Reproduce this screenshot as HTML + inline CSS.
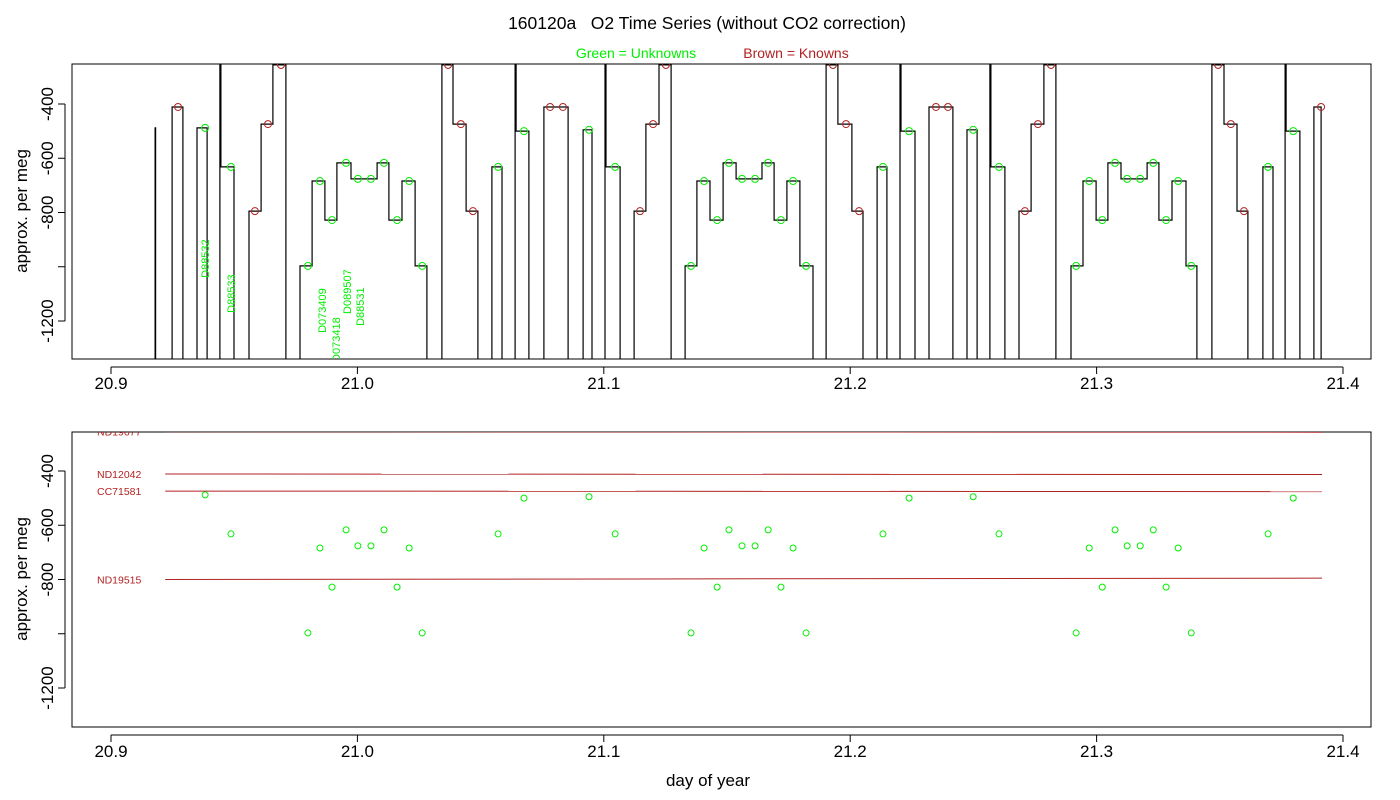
<!DOCTYPE html>
<html><head><meta charset="utf-8">
<style>
html,body{margin:0;padding:0;background:#fff;}
svg{display:block;font-family:"Liberation Sans",sans-serif;}
</style></head>
<body>
<svg id="chart" width="1400" height="800" viewBox="0 0 1400 800">
  <defs>
    <clipPath id="clipTop"><rect x="72" y="64" width="1299" height="295"/></clipPath>
    <clipPath id="clipBot"><rect x="72" y="432" width="1299" height="295"/></clipPath>
  </defs>
  <text x="707" y="29" font-size="17.5" text-anchor="middle" xml:space="preserve">160120a   O2 Time Series (without CO2 correction)</text>
  <text x="636" y="58" font-size="14" fill="#00ee00" text-anchor="middle">Green = Unknowns</text>
  <text x="796" y="58" font-size="14" fill="#b22222" text-anchor="middle">Brown = Knowns</text>
  <rect x="72" y="64" width="1299" height="295" fill="none" stroke="#000"/>
  <rect x="72" y="432" width="1299" height="295" fill="none" stroke="#000"/>
  <text transform="translate(27,211) rotate(-90)" font-size="17" text-anchor="middle">approx. per meg</text>
  <text transform="translate(27,579) rotate(-90)" font-size="17" text-anchor="middle">approx. per meg</text>
  <text x="708" y="786" font-size="17" text-anchor="middle">day of year</text>
  <g id="axes"></g>
  <g id="topG" clip-path="url(#clipTop)"></g>
  <g id="botG" clip-path="url(#clipBot)"></g>
</svg>
<script>
// ---- data ----
const xTicks = [20.9, 21.0, 21.1, 21.2, 21.3, 21.4];
const xTickLabels = ["20.9", "21.0", "21.1", "21.2", "21.3", "21.4"];
const yTicks = [-400, -600, -800, -1000, -1200];
const yTickLabels = ["-400", "-600", "-800", "", "-1200"];

// trace runs: step starts [time, value]
const runSteps = [
  [[20.9179,-488]],
  [[20.9248,-411]],
  [[20.9349,-488]],
  [[20.9442,-240],[20.9446,-632]],
  [[20.9560,-795],[20.9609,-474],[20.9657,-256]],
  [[20.9767,-997],[20.9816,-684],[20.9868,-828],[20.9917,-617],[20.9974,-676],[21.0080,-617],[21.0128,-828],[21.0181,-684],[21.0234,-997]],
  [[21.0343,-256],[21.0388,-474],[21.0441,-795]],
  [[21.0546,-632]],
  [[21.0640,-240],[21.0644,-500]],
  [[21.0757,-411]],
  [[21.0916,-495]],
  [[21.1005,-240],[21.1009,-632]],
  [[21.1123,-795],[21.1171,-474],[21.1224,-256]],
  [[21.1330,-997],[21.1378,-684],[21.1431,-828],[21.1484,-617],[21.1537,-676],[21.1642,-617],[21.1691,-828],[21.1743,-684],[21.1796,-997]],
  [[21.1902,-256],[21.1950,-474],[21.2007,-795]],
  [[21.2109,-632]],
  [[21.2202,-240],[21.2206,-500]],
  [[21.2320,-411]],
  [[21.2474,-495]],
  [[21.2567,-240],[21.2571,-632]],
  [[21.2685,-795],[21.2734,-474],[21.2786,-256]],
  [[21.2896,-997],[21.2945,-684],[21.2998,-828],[21.3046,-617],[21.3099,-676],[21.3205,-617],[21.3253,-828],[21.3306,-684],[21.3363,-997]],
  [[21.3468,-256],[21.3517,-474],[21.3570,-795]],
  [[21.3675,-632]],
  [[21.3765,-240],[21.3769,-500]],
  [[21.3882,-411]]
];
const runEnds = [20.9181,20.9292,20.9390,20.9499,20.9710,21.0282,21.0489,21.0587,21.0696,21.0855,21.0952,21.1066,21.1273,21.1849,21.2052,21.2149,21.2263,21.2417,21.2515,21.2628,21.2835,21.3407,21.3614,21.3716,21.3825,21.3911];

// known standards (brown circles)
const knownTimes = [20.9272,20.9584,20.9637,20.9690,21.0368,21.0420,21.0469,21.0782,21.0834,21.1147,21.1200,21.1252,21.1930,21.1983,21.2036,21.2348,21.2397,21.2709,21.2762,21.2815,21.3493,21.3545,21.3598,21.3911];
const knownValues = [-411,-795,-474,-256,-256,-474,-795,-411,-411,-795,-474,-256,-256,-474,-795,-411,-411,-795,-474,-256,-256,-474,-795,-411];

// unknown samples (green circles)
const unkTimes = [20.9382,20.9487,20.9799,20.9848,20.9897,20.9954,21.0002,21.0055,21.0108,21.0161,21.0210,21.0263,21.0571,21.0676,21.0940,21.1046,21.1354,21.1407,21.1460,21.1508,21.1561,21.1614,21.1667,21.1719,21.1768,21.1821,21.2133,21.2239,21.2499,21.2604,21.2917,21.2970,21.3023,21.3075,21.3124,21.3177,21.3230,21.3282,21.3331,21.3384,21.3696,21.3798];
const unkValues = [-488,-632,-997,-684,-828,-617,-676,-676,-617,-828,-684,-997,-632,-500,-495,-632,-997,-684,-828,-617,-676,-676,-617,-828,-684,-997,-632,-500,-495,-632,-997,-684,-828,-617,-676,-676,-617,-828,-684,-997,-632,-500];

// sample labels (rotated)
const sampleLabels = ["D88532","D88533","D073409","D073418","D089507","D88531"];
const sampleLabelTimes = [20.9382,20.9487,20.9857,20.9914,20.9958,21.0010];
const sampleLabelValues = [-1041,-1170,-1244,-1351,-1174,-1218];

// standard reference lines (bottom panel)
const stdNames = ["ND19677","ND12042","CC71581","ND19515"];
const stdStartValues = [-255,-411,-474,-800];
const stdEndValues = [-257,-413,-476,-795];
const stdStart = 20.9220, stdEnd = 21.3915;

// ---- scales ----
const xS = t => 111 + (t - 20.9) * 2464;
const yTop = v => 104 + (-400 - v) * 0.27125;
const yBot = v => 471 + (-400 - v) * 0.27125;
const NS = "http://www.w3.org/2000/svg";
function mk(tag, attrs, parent){ const e=document.createElementNS(NS,tag); for(const k in attrs) e.setAttribute(k,attrs[k]); parent.appendChild(e); return e; }

const axes = document.getElementById('axes');
const topG = document.getElementById('topG');
const botG = document.getElementById('botG');

// axes
[[359,yTop,'top'],[727,yBot,'bottom']].forEach(([by,ys,nm])=>{
  const xl = mk('line',{x1:xS(xTicks[0]),x2:xS(xTicks[xTicks.length-1]),y1:by+8,y2:by+8,stroke:'#000'},axes);
  
  
  xTicks.forEach((t,i)=>{
    const tk = mk('line',{x1:xS(t),x2:xS(t),y1:by+8,y2:by+15,stroke:'#000'},axes);
    
    
    const tl = mk('text',{x:xS(t),y:by+30,'font-size':17,'text-anchor':'middle'},axes);
    tl.textContent = xTickLabels[i];
    
    
  });
  const yl = mk('line',{x1:65,x2:65,y1:ys(yTicks[0]),y2:ys(yTicks[yTicks.length-1]),stroke:'#000'},axes);
  
  
  yTicks.forEach((v,i)=>{
    const tk = mk('line',{x1:58,x2:65,y1:ys(v),y2:ys(v),stroke:'#000'},axes);
    
    
    if(yTickLabels[i]){
      const tl = mk('text',{transform:`translate(53,${ys(v)}) rotate(-90)`,'font-size':17,'text-anchor':'middle'},axes);
      tl.textContent = yTickLabels[i];
      
      
    }
  });
});

// trace
let pts = [];
const BOT = -1400;
runSteps.forEach((steps,ri)=>{
  pts.push([xS(steps[0][0]), yTop(BOT)]);
  steps.forEach((s,si)=>{
    pts.push([xS(s[0]), yTop(s[1])]);
    const next = si+1<steps.length ? steps[si+1][0] : runEnds[ri];
    pts.push([xS(next), yTop(s[1])]);
  });
  pts.push([xS(runEnds[ri]), yTop(BOT)]);
});
const trace = mk('polyline',{points:pts.map(p=>p[0].toFixed(1)+','+p[1].toFixed(1)).join(' '),fill:'none',stroke:'#000','stroke-width':1.2},topG);



knownTimes.forEach((t,i)=>{
  const c = mk('circle',{cx:xS(t),cy:yTop(knownValues[i]),r:3.5,fill:'none',stroke:'#b22222','stroke-width':1},topG);
  
  
});
unkTimes.forEach((t,i)=>{
  const c = mk('circle',{cx:xS(t),cy:yTop(unkValues[i]),r:3.5,fill:'none',stroke:'#00ee00','stroke-width':1},topG);
  
  
  const c2 = mk('circle',{cx:xS(t),cy:yBot(unkValues[i]),r:3,fill:'none',stroke:'#00ee00','stroke-width':1},botG);
  
  
});
sampleLabels.forEach((s,i)=>{
  const x = xS(sampleLabelTimes[i]) + 4, y = yTop(sampleLabelValues[i]);
  const tx = mk('text',{transform:`translate(${x},${y}) rotate(-90)`,'font-size':11,fill:'#00ee00'},topG);
  tx.textContent = s;
  
  
});

stdNames.forEach((n,i)=>{
  const l = mk('line',{x1:xS(stdStart),x2:xS(stdEnd),y1:yBot(stdStartValues[i]),y2:yBot(stdEndValues[i]),stroke:'#b22222','stroke-width':1},botG);
  
  
  const tx = mk('text',{x:97,y:yBot(stdStartValues[i])+4,'font-size':10.5,fill:'#b22222'},botG);
  tx.textContent = n;
  
  
});
</script>
</body></html>
